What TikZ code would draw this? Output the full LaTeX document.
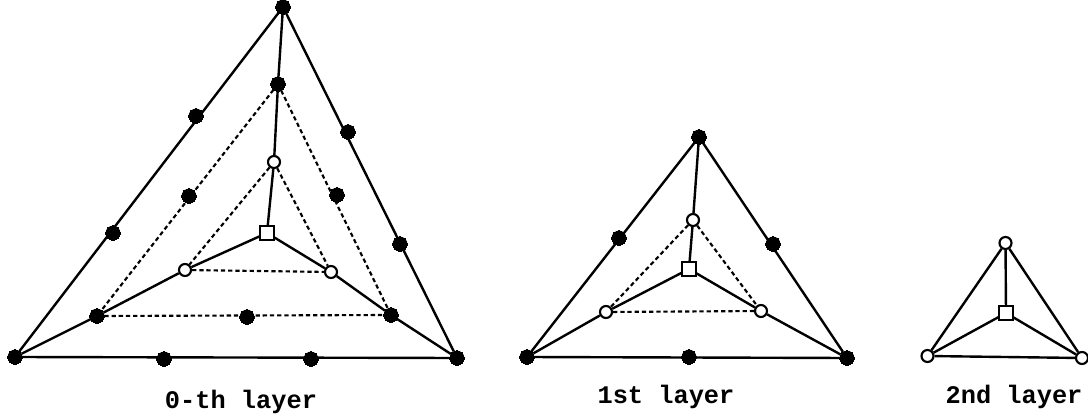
\documentclass[tikz,border=0pt]{standalone}
\usepackage{fontspec}
\setmonofont{Liberation Mono}
\tikzset{
  solidedge/.style={line width=1.8pt,black},
  dashededge/.style={line width=1.6pt,black,dash pattern=on 3.2pt off 2.2pt},
  fulldot/.style={circle,fill=black,draw=black,line width=0pt,inner sep=0pt,minimum size=11pt},
  opendot/.style={circle,fill=white,draw=black,line width=1.6pt,inner sep=0pt,minimum size=9pt},
  sqbox/.style={rectangle,fill=white,draw=black,line width=1.4pt,inner sep=0pt,minimum size=10pt},
  layerlabel/.style={font=\ttfamily\bfseries\fontsize{19}{22}\selectfont,inner sep=0pt,anchor=center}
}
\begin{document}
\begin{tikzpicture}[x=0.75pt,y=-0.75pt]
\useasboundingbox (0,0) rectangle (1088,420);
% layer 0
\node[fulldot] (aT) at (283,7) {};
\node[fulldot] (aL) at (15,357) {};
\node[fulldot] (aR) at (457,358) {};
\node[fulldot] (al1) at (196,116) {};
\node[fulldot] (al2) at (113,233) {};
\node[fulldot] (ar1) at (348,132) {};
\node[fulldot] (ar2) at (400,244) {};
\node[fulldot] (ab1) at (164,359) {};
\node[fulldot] (ab2) at (311,359) {};
\node[fulldot] (iT) at (278,84) {};
\node[fulldot] (iL) at (97,316) {};
\node[fulldot] (iR) at (391,315) {};
\node[fulldot] (im1) at (189,196) {};
\node[fulldot] (im2) at (337,195) {};
\node[fulldot] (im3) at (247,317) {};
\node[opendot] (oT) at (274,162) {};
\node[opendot] (oL) at (185,270) {};
\node[opendot] (oR) at (331,272) {};
\node[sqbox] (aS) at (267,233) {};
\draw[solidedge] (aT) -- (aL) (aT) -- (aR) (aL) -- (aR);
\draw[solidedge] (aT) -- (iT) -- (oT) -- (aS);
\draw[solidedge] (aS) -- (oL) -- (iL) -- (aL);
\draw[solidedge] (aS) -- (oR) -- (iR) -- (aR);
\draw[dashededge] (iT) -- (iL) (iT) -- (iR) (iL) -- (iR);
\draw[dashededge] (oT) -- (oL) (oT) -- (oR) (oL) -- (oR);
\node[layerlabel] (la) at (241,402) {0-th layer};
% layer 1
\node[fulldot] (bT) at (699,137) {};
\node[fulldot] (bL) at (527,357) {};
\node[fulldot] (bR) at (847,358) {};
\node[fulldot] (bl) at (619,238) {};
\node[fulldot] (br) at (773,244) {};
\node[fulldot] (bb) at (689,357) {};
\node[opendot] (pT) at (693,220) {};
\node[opendot] (pL) at (606,312) {};
\node[opendot] (pR) at (761,311) {};
\node[sqbox] (bS) at (689,269) {};
\draw[solidedge] (bT) -- (bL) (bT) -- (bR) (bL) -- (bR);
\draw[solidedge] (bT) -- (pT) -- (bS);
\draw[solidedge] (bS) -- (pL) -- (bL);
\draw[solidedge] (bS) -- (pR) -- (bR);
\draw[dashededge] (pT) -- (pL) (pT) -- (pR) (pL) -- (pR);
\node[layerlabel] (lb) at (666,397) {1st layer};
% layer 2
\node[opendot] (cT) at (1005.5,243) {};
\node[opendot] (cL) at (927.5,356) {};
\node[opendot] (cR) at (1082,358) {};
\node[sqbox] (cS) at (1006,313) {};
\draw[solidedge] (cT) -- (cL) (cT) -- (cR) (cL) -- (cR);
\draw[solidedge] (cT) -- (cS) (cS) -- (cL) (cS) -- (cR);
\node[layerlabel] (lc) at (1014,397) {2nd layer};
\end{tikzpicture}
\end{document}
